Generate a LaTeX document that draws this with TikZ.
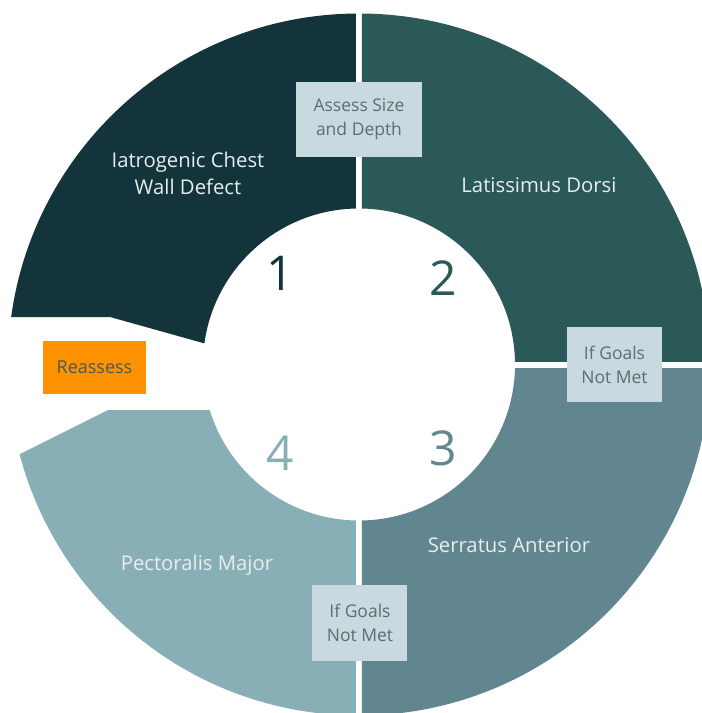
\documentclass[tikz,border=0pt]{standalone}
\usepackage{fontspec}
\setmainfont{Open Sans}
\definecolor{qone}{HTML}{12343A}
\definecolor{qtwo}{HTML}{2B5957}
\definecolor{qthree}{HTML}{62868F}
\definecolor{qfour}{HTML}{89AFB6}
\definecolor{boxfill}{HTML}{C8DADF}
\definecolor{boxtext}{HTML}{5B6E72}
\definecolor{orangefill}{HTML}{FF9200}
\definecolor{lighttext}{HTML}{E6EEEE}
\tikzset{
  ring/.style={even odd rule},
  infobox/.style={fill=boxfill, text=boxtext, align=center, inner sep=0pt, font=\fontsize{17.5}{24}\selectfont},
  seglabel/.style={text=lighttext, align=center, font=\fontsize{20.3}{27}\selectfont},
  numlabel/.style={font=\fontsize{48}{48}\selectfont},
}
\begin{document}
\begin{tikzpicture}[x=1pt,y=1pt]
\useasboundingbox (-359,-348.5) rectangle (343,364.5);
\clip (-359,-348.5) rectangle (343,364.5);
% quadrant 1 (top-left)
\begin{scope}
  \clip (-3,400) -- (-400,400) -- (-400,47.5) -- (-249,47.5) -- (-156,21.5) -- (-3,-21) -- cycle;
  \fill[qone,ring] (0,0) circle (351) (0,0) circle (156);
\end{scope}
% quadrant 2 (top-right)
\begin{scope}
  \clip (3,3.5) rectangle (400,400);
  \fill[qtwo,ring] (0,0) circle (351) (0,0) circle (156);
\end{scope}
% quadrant 3 (bottom-right)
\begin{scope}
  \clip (3,-3.5) rectangle (400,-400);
  \fill[qthree,ring] (0,0) circle (351) (0,0) circle (156);
\end{scope}
% quadrant 4 (bottom-left)
\begin{scope}
  \clip (-3,-45.5) -- (-251,-45.5) -- (-400,-120) -- (-400,-400) -- (-3,-400) -- cycle;
  \fill[qfour,ring] (0,0) circle (351) (0,0) circle (156);
\end{scope}
% segment labels
\node[seglabel] (t1) at (-171,191) {Iatrogenic Chest\\Wall Defect};
\node[seglabel] (t2) at (180,179.5) {Latissimus Dorsi};
\node[seglabel] (t3) at (150,-180.5) {Serratus Anterior};
\node[seglabel] (t4) at (-162,-200.5) {Pectoralis Major};
% numbers
\node[numlabel,text=qone] (n1) at (-79,91.5) {1};
\node[numlabel,text=qtwo] (n2) at (84,86.5) {2};
\node[numlabel,text=qthree] (n3) at (84,-83.5) {3};
\node[numlabel,text=qfour] (n4) at (-79,-88.5) {4};
% boxes
\node[infobox, minimum width=126pt, minimum height=75pt] (b1) at (0,245) {Assess Size\\and Depth};
\node[infobox, minimum width=95pt, minimum height=75pt] (b2) at (255.5,0) {If Goals\\Not Met};
\node[infobox, minimum width=95pt, minimum height=76pt] (b3) at (1,-258.5) {If Goals\\Not Met};
\node[fill=orangefill, text=boxtext!80!black, inner sep=0pt, minimum width=103pt, minimum height=53pt, font=\fontsize{18}{24}\selectfont] (b4) at (-264.5,-3) {Reassess};
\end{tikzpicture}
\end{document}
